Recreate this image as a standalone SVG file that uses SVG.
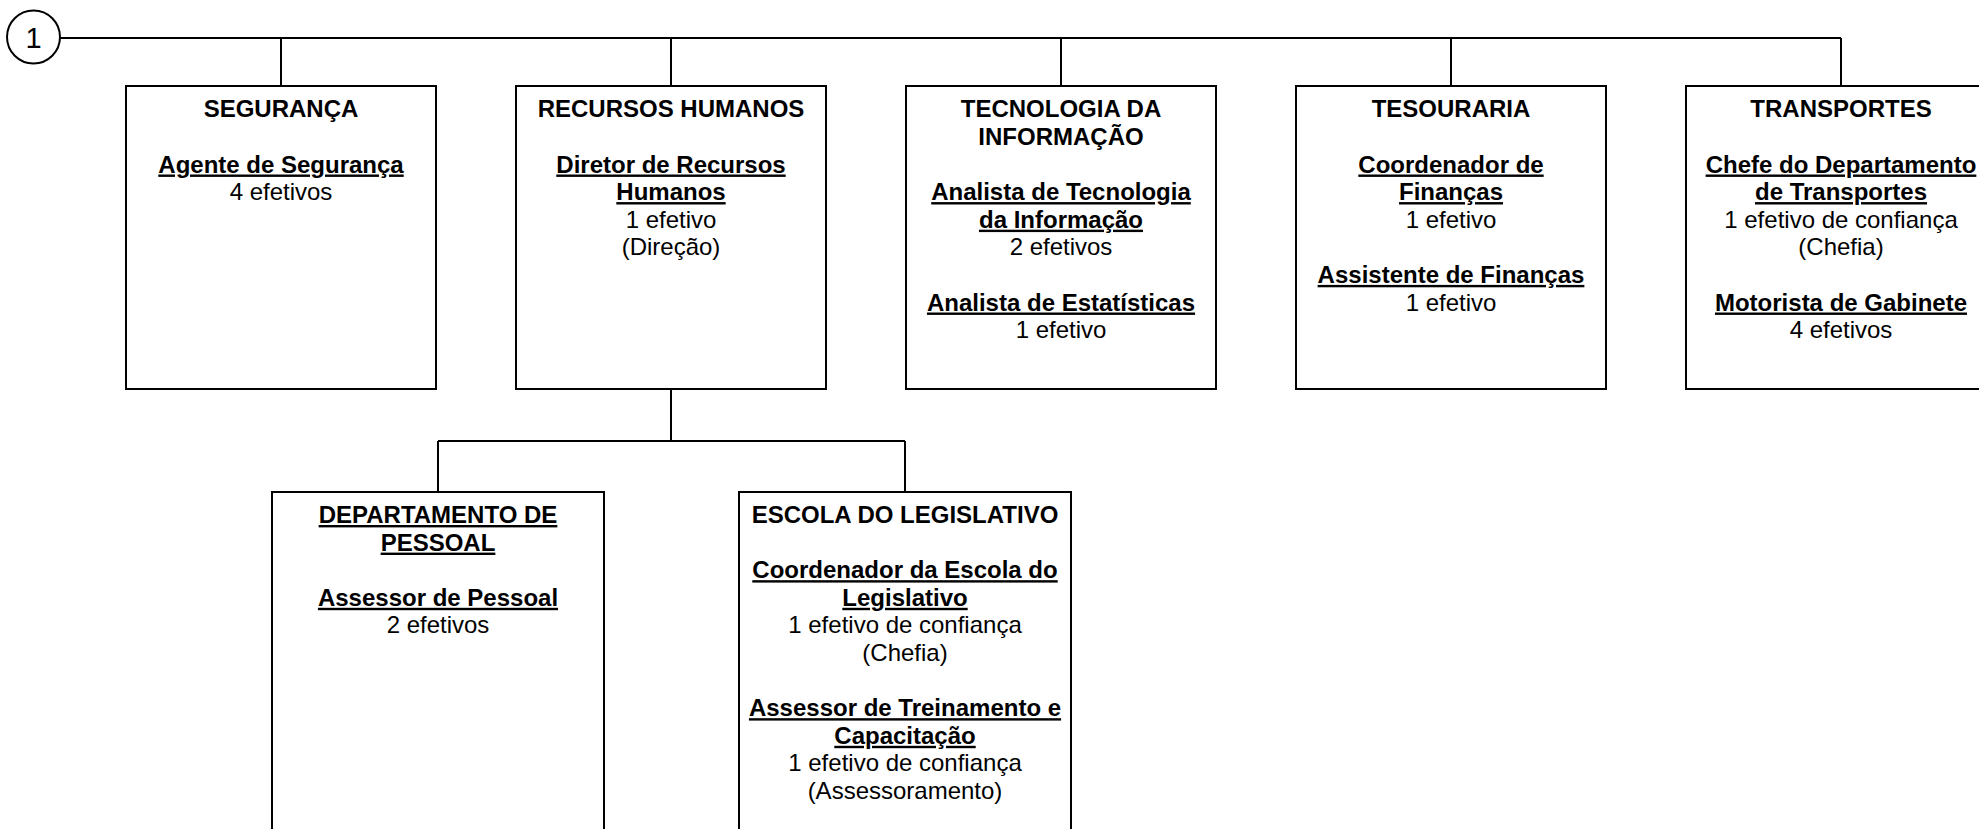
<svg xmlns="http://www.w3.org/2000/svg" width="1979" height="829" viewBox="0 0 1979 829">
<style>
.box{fill:#fff;stroke:#000;stroke-width:2}
.ln{fill:none;stroke:#000;stroke-width:2}
text{font-family:"Liberation Sans",Arial,sans-serif;font-size:24px;fill:#000;text-anchor:middle}
.h{font-weight:bold}
.u{font-weight:bold;text-decoration:underline}
.num{font-size:29px}
</style>
<rect width="1979" height="829" fill="#fff"/>
<g id="connectors">
<path class="ln" d="M60,38 H1841 M281,38 V86 M671,38 V86 M1061,38 V86 M1451,38 V86 M1841,38 V86"/>
<path class="ln" d="M671,389 V441 M438,441 H905 M438,441 V492 M905,441 V492"/>
</g>
<g id="root">
<circle cx="33.5" cy="37" r="26.5" fill="#fff" stroke="#000" stroke-width="2"/>
<text class="num" x="33.5" y="47.5">1</text>
</g>
<g id="seguranca">
<rect class="box" x="126" y="86" width="310" height="303"/>
<text class="h" x="281" y="117.3">SEGURANÇA</text>
<text class="u" x="281" y="172.5">Agente de Segurança</text>
<text x="281" y="200.1">4 efetivos</text>
</g>
<g id="recursos-humanos">
<rect class="box" x="516" y="86" width="310" height="303"/>
<text class="h" x="671" y="117.3">RECURSOS HUMANOS</text>
<text class="u" x="671" y="172.5">Diretor de Recursos</text>
<text class="u" x="671" y="200.1">Humanos</text>
<text x="671" y="227.7">1 efetivo</text>
<text x="671" y="255.3">(Direção)</text>
</g>
<g id="tecnologia">
<rect class="box" x="906" y="86" width="310" height="303"/>
<text class="h" x="1061" y="117.3">TECNOLOGIA DA</text>
<text class="h" x="1061" y="144.9">INFORMAÇÃO</text>
<text class="u" x="1061" y="200.1">Analista de Tecnologia</text>
<text class="u" x="1061" y="227.7">da Informação</text>
<text x="1061" y="255.3">2 efetivos</text>
<text class="u" x="1061" y="310.5">Analista de Estatísticas</text>
<text x="1061" y="338.1">1 efetivo</text>
</g>
<g id="tesouraria">
<rect class="box" x="1296" y="86" width="310" height="303"/>
<text class="h" x="1451" y="117.3">TESOURARIA</text>
<text class="u" x="1451" y="172.5">Coordenador de</text>
<text class="u" x="1451" y="200.1">Finanças</text>
<text x="1451" y="227.7">1 efetivo</text>
<text class="u" x="1451" y="282.9">Assistente de Finanças</text>
<text x="1451" y="310.5">1 efetivo</text>
</g>
<g id="transportes">
<rect class="box" x="1686" y="86" width="310" height="303"/>
<text class="h" x="1841" y="117.3">TRANSPORTES</text>
<text class="u" x="1841" y="172.5">Chefe do Departamento</text>
<text class="u" x="1841" y="200.1">de Transportes</text>
<text x="1841" y="227.7">1 efetivo de confiança</text>
<text x="1841" y="255.3">(Chefia)</text>
<text class="u" x="1841" y="310.5">Motorista de Gabinete</text>
<text x="1841" y="338.1">4 efetivos</text>
</g>
<g id="departamento-pessoal">
<rect class="box" x="272" y="492" width="332" height="400"/>
<text class="u" x="438" y="523">DEPARTAMENTO DE</text>
<text class="u" x="438" y="550.6">PESSOAL</text>
<text class="u" x="438" y="605.8">Assessor de Pessoal</text>
<text x="438" y="633.4">2 efetivos</text>
</g>
<g id="escola-legislativo">
<rect class="box" x="739" y="492" width="332" height="400"/>
<text class="h" x="905" y="523">ESCOLA DO LEGISLATIVO</text>
<text class="u" x="905" y="578.2">Coordenador da Escola do</text>
<text class="u" x="905" y="605.8">Legislativo</text>
<text x="905" y="633.4">1 efetivo de confiança</text>
<text x="905" y="661">(Chefia)</text>
<text class="u" x="905" y="716.2">Assessor de Treinamento e</text>
<text class="u" x="905" y="743.8">Capacitação</text>
<text x="905" y="771.4">1 efetivo de confiança</text>
<text x="905" y="799">(Assessoramento)</text>
</g>
</svg>
